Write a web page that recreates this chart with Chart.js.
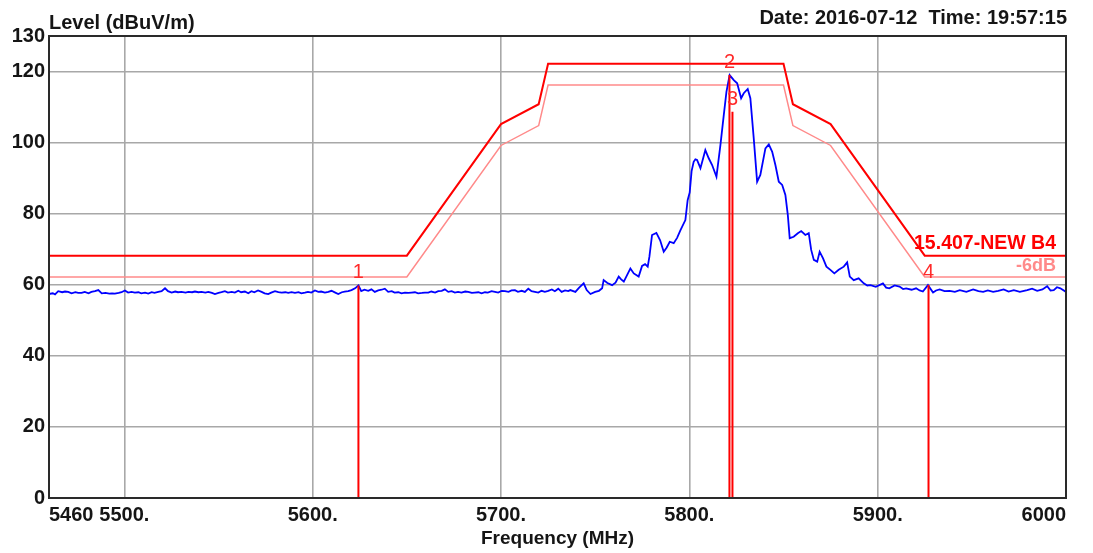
<!DOCTYPE html>
<html>
<head>
<meta charset="utf-8">
<script src="https://cdn.jsdelivr.net/npm/chart.js@4.4.1/dist/chart.umd.min.js"></script>
<style>
  html, body { margin: 0; padding: 0; background: #ffffff; }
  canvas { display: block; }
</style>
</head>
<body>
<canvas id="scan" width="1093" height="553"></canvas>
<script>
// Measured spectrum (MHz, dBuV/m)
const spectrumFreq = [
  5460, 5462, 5463.2, 5464.9, 5467, 5468.5, 5470.2, 5472, 5474, 5475.5, 5477.3, 5479, 5481, 5482.5,
  5484.4, 5486.2, 5488, 5490, 5492, 5493.5, 5495, 5497, 5498.5, 5500.3, 5502, 5503.8, 5505.6, 5507.5,
  5509, 5511, 5512.7, 5514.5, 5516, 5518, 5519.8, 5521.6, 5523.2, 5525.1, 5527, 5528.5, 5530.4, 5532.5,
  5534, 5536, 5537.5, 5539.3, 5541, 5543, 5544.6, 5546.5, 5548.1, 5550, 5551.6, 5553.4, 5555, 5557,
  5558.7, 5560.5, 5562, 5564, 5565.8, 5567.5, 5569, 5571, 5572.9, 5574.5, 5576.4, 5578, 5580, 5581.8,
  5583.5, 5585.5, 5587, 5588.8, 5590.6, 5592.5, 5594, 5595.9, 5597.5, 5599.3, 5601.2, 5603, 5604.5,
  5606.5, 5608.3, 5610, 5612, 5613.6, 5615.5, 5617, 5618.9, 5620.6, 5622.5, 5624.3, 5625.8, 5627.5,
  5629.5, 5631.2, 5633, 5634.8, 5636.6, 5638.3, 5640.1, 5642, 5643.5, 5645.5, 5647.2, 5649, 5650.8,
  5652.5, 5654.3, 5656, 5658, 5659.6, 5661.4, 5663, 5665, 5666.7, 5668.5, 5670.2, 5672, 5673.8, 5675.5,
  5677.2, 5679, 5681, 5682.6, 5684.5, 5686, 5688, 5689.7, 5691.5, 5693, 5695, 5696.8, 5698.5, 5700.4,
  5702.1, 5704, 5705.6, 5707.4, 5709, 5711, 5712.7, 5714.5, 5716.2, 5718, 5719.8, 5721.5, 5723.3,
  5725.1, 5727, 5728.6, 5730.4, 5732.2, 5734, 5735.7,
  5736.8, 5739.5, 5741.5, 5743.9, 5745.5, 5747.5, 5750, 5752, 5753.7, 5754.5, 5756.5, 5759, 5760.8,
  5762.5, 5763.8, 5765.2, 5767, 5768.7, 5770.5, 5773.1, 5774.9, 5776.5, 5777.9, 5778.8, 5780.2,
  5782.5, 5784.5, 5786.4, 5788, 5789.6, 5791.7, 5793.5, 5795.3, 5797.9, 5799.1, 5800.2, 5801.2,
  5802.3, 5803.2, 5804.1, 5805.9, 5807.3, 5808.5, 5810.3, 5812.1, 5814.4, 5816.5, 5818.3, 5819.7,
  5821.4, 5823.6, 5825.4, 5827.5, 5828.9, 5831, 5832.4, 5834.2, 5836, 5837.7, 5840.4, 5842.2, 5844,
  5845.7, 5847.5, 5849.3, 5851, 5852.3, 5853.3, 5855.4, 5857.6, 5859.4, 5861.6, 5863.4, 5864.7,
  5866.1, 5867.9, 5869.2, 5871, 5872.8, 5874.9, 5877, 5879.3, 5882, 5883.8, 5885.2, 5887.3, 5889.9,
  5892.6, 5894.5, 5896.2, 5899, 5902.8, 5904.5, 5906.2, 5909, 5911.6, 5913.5, 5915.1, 5918, 5920.4,
  5922.3, 5924, 5926.7, 5929.4, 5931, 5932.9, 5935.5, 5938.2, 5941, 5943.6, 5947.1, 5950.7, 5953.5,
  5956, 5958.5, 5961.3, 5964, 5966.9, 5969.5, 5972.3, 5975.5, 5979.4, 5982, 5984.7, 5987.5, 5990,
  5991.8, 5993.5, 5995.2, 5997, 6000
];
const spectrumLevel = [
  57.4, 57.6, 57.3, 58.2, 57.9, 58.1, 58.0, 57.6, 57.9, 57.7, 57.7, 58.0, 57.6, 58.0,
  58.2, 58.5, 57.6, 57.7, 57.5, 57.6, 57.5, 57.7, 57.9, 58.4, 57.8, 58.0, 57.8, 57.9,
  57.6, 57.8, 57.5, 57.9, 57.7, 58.0, 58.2, 59.0, 58.2, 57.8, 58.1, 57.9, 58.0, 57.8,
  58.0, 57.9, 58.1, 57.9, 58.0, 57.8, 58.0, 57.7, 57.4, 57.7, 57.9, 58.2, 57.8, 58.0,
  57.8, 58.3, 57.9, 58.1, 57.6, 58.2, 57.9, 58.4, 58.0, 57.6, 57.4, 57.8, 58.2, 57.9,
  57.8, 57.9, 57.7, 57.9, 57.7, 57.9, 57.6, 57.8, 58.0, 57.8, 58.4, 58.0, 58.1,
  57.8, 58.0, 58.3, 57.8, 57.4, 57.9, 58.1, 58.2, 58.5, 59.0, 59.8, 58.2, 58.6,
  58.3, 58.7, 58.0, 58.4, 58.6, 58.9, 58.0, 58.2, 57.8, 57.9, 57.6, 57.8, 57.7,
  57.8, 57.9, 57.6, 57.7, 57.8, 57.8, 58.1, 57.8, 58.2, 58.3, 58.7, 58.0, 58.2, 57.8,
  58.0, 57.8, 58.1, 58.0, 57.7, 57.8, 57.9, 57.6, 57.9, 57.8, 58.2, 58.0, 57.8, 58.3,
  58.2, 58.0, 58.4, 58.5, 58.0, 58.3, 58.0, 58.9, 58.2, 58.0, 57.8, 58.3, 58.0,
  58.3, 58.7, 58.2, 58.9, 58.0, 58.4, 58.2,
  58.5, 58.0, 59.2, 60.4, 58.5, 57.4, 58.0, 58.3, 59.0, 61.3, 60.5, 59.9, 60.6,
  62.3, 61.5, 60.9, 62.8, 64.6, 63.2, 62.3, 65.3, 65.8, 65.1, 67.9, 74.0,
  74.6, 72.5, 69.3, 70.5, 72.1, 71.7, 73.2, 75.4, 78.2, 83.8, 86.0, 92.0,
  94.6, 95.3, 95.1, 92.8, 95.5, 97.9, 95.6, 93.7, 90.4, 99.3, 107.8, 114.3,
  119.0, 117.6, 116.7, 112.5, 113.9, 115.1, 112.5, 101.2, 89.0, 90.9, 98.4, 99.5, 97.4,
  93.7, 89.0, 88.1, 85.3, 79.6, 73.1, 73.5, 74.5, 75.1, 74.0, 74.5, 69.8,
  67.0, 66.5, 69.3, 67.4, 65.1, 64.2, 63.2, 64.2, 65.1, 66.3, 62.3, 61.3, 61.8,
  60.4, 59.8, 59.9, 59.4, 60.4, 59.2, 59.0, 59.8, 59.5, 58.8, 59.0, 58.6, 59.0,
  58.4, 58.1, 59.9, 57.8, 58.4, 58.7, 58.2, 58.3, 58.0, 58.5, 58.0, 58.7, 58.2,
  58.0, 58.4, 58.0, 58.3, 58.7, 58.1, 58.5, 58.0, 58.5, 58.9, 58.3, 58.7, 59.6,
  58.4, 58.5, 59.3, 59.0, 58.0
];

// Emission limit line and the -6 dB margin line
const maskFreq    = [5460, 5650, 5700, 5720, 5725, 5850, 5855, 5875, 5925, 6000];
const maskLimit   = [68.2, 68.2, 105.2, 110.8, 122.2, 122.2, 110.8, 105.2, 68.2, 68.2];
const marginLimit = [62.2, 62.2, 99.2, 104.8, 116.2, 116.2, 104.8, 99.2, 62.2, 62.2];

// Markers
const markerNames = ['1', '2', '3', '4'];
const markerFreq  = [5624.3, 5821.3, 5822.9, 5927.0];
const markerLevel = [59.8, 119.0, 108.7, 59.9];

// Axes
const yTickValues = [0, 20, 40, 60, 80, 100, 120, 130];
const xTickValues = [5460, 5500, 5600, 5700, 5800, 5900, 6000];
const xTickLabels = ['5460', '5500.', '5600.', '5700.', '5800.', '5900.', '6000'];

// Texts
const limitName  = '15.407-NEW B4';
const marginName = '-6dB';
const yTitle = 'Level (dBuV/m)';
const xTitle = 'Frequency (MHz)';
const stamp  = 'Date: 2016-07-12  Time: 19:57:15';

const FONT = '"Liberation Sans", Arial, sans-serif';
const TEXT = '#151515';
const RED = '#ff0000';
const PINK = '#ff8a8a';

const pairs = (xs, ys) => xs.map((x, i) => ({ x: x, y: ys[i] }));

const markerSets = markerFreq.map((f, i) => ({
  label: 'M' + markerNames[i],
  data: [{ x: f, y: markerLevel[i] }, { x: f, y: 0 }],
  borderColor: RED,
  borderWidth: 2,
  pointRadius: 0,
  fill: false
}));

const overlay = {
  id: 'overlay',
  afterDraw(chart) {
    const { ctx, chartArea: a, scales } = chart;
    const xs = scales.x, ys = scales.y;
    ctx.save();

    // plot frame
    ctx.strokeStyle = '#2a2a2a';
    ctx.lineWidth = 2;
    ctx.strokeRect(a.left, a.top, a.right - a.left, a.bottom - a.top);

    // header texts
    ctx.fillStyle = TEXT;
    ctx.font = 'bold 20px ' + FONT;
    ctx.textBaseline = 'alphabetic';
    ctx.textAlign = 'left';
    ctx.fillText(yTitle, a.left, 29);
    ctx.textAlign = 'right';
    ctx.fillText(stamp, a.right + 1, 24);

    // marker numbers
    ctx.font = '20px ' + FONT;
    ctx.fillStyle = '#ff2a2a';
    ctx.textAlign = 'center';
    markerFreq.forEach((f, i) => {
      const px = xs.getPixelForValue(f);
      const py = ys.getPixelForValue(markerLevel[i]);
      ctx.fillText(markerNames[i], px, py - 7);
    });

    // limit line names
    const last = maskFreq.length - 1;
    ctx.textAlign = 'right';
    ctx.font = 'bold 19.5px ' + FONT;
    ctx.fillStyle = RED;
    ctx.fillText(limitName, a.right - 10, ys.getPixelForValue(maskLimit[last]) - 7);
    ctx.font = 'bold 18px ' + FONT;
    ctx.fillStyle = PINK;
    ctx.fillText(marginName, a.right - 10, ys.getPixelForValue(marginLimit[last]) - 6);
    ctx.restore();
  }
};

new Chart(document.getElementById('scan'), {
  type: 'line',
  data: {
    datasets: [
      ...markerSets,
      {
        label: 'Level',
        data: pairs(spectrumFreq, spectrumLevel),
        borderColor: '#0000ff',
        borderWidth: 1.8,
        pointRadius: 0,
        fill: false
      },
      {
        label: limitName,
        data: pairs(maskFreq, maskLimit),
        borderColor: RED,
        borderWidth: 2,
        pointRadius: 0,
        fill: false
      },
      {
        label: marginName,
        data: pairs(maskFreq, marginLimit),
        borderColor: PINK,
        borderWidth: 1.5,
        pointRadius: 0,
        fill: false
      }
    ]
  },
  options: {
    responsive: false,
    animation: false,
    events: [],
    layout: { padding: { top: 36, right: 27, bottom: 0, left: 0 } },
    plugins: { legend: { display: false }, tooltip: { enabled: false }, title: { display: false } },
    elements: { line: { tension: 0 } },
    scales: {
      x: {
        type: 'linear',
        min: 5460,
        max: 6000,
        afterBuildTicks(scale) { scale.ticks = xTickValues.map(v => ({ value: v })); },
        afterFit(scale) { scale.height = 55; },
        ticks: {
          autoSkip: false,
          maxRotation: 0,
          minRotation: 0,
          align: 'inner',
          padding: 5,
          color: TEXT,
          font: { family: FONT, size: 20, weight: 'bold', lineHeight: 1.2 },
          callback: (v, i) => xTickLabels[i]
        },
        grid: { color: '#a8a8a8', lineWidth: 1.6, drawTicks: false },
        border: { display: false },
        title: {
          display: true,
          text: xTitle,
          color: TEXT,
          font: { family: FONT, size: 19, weight: 'bold', lineHeight: 1.2 },
          padding: { top: 0, bottom: 3 }
        }
      },
      y: {
        type: 'linear',
        min: 0,
        max: 130,
        afterBuildTicks(scale) { scale.ticks = yTickValues.map(v => ({ value: v })); },
        afterFit(scale) { scale.width = 49; },
        ticks: {
          padding: 4,
          color: TEXT,
          font: { family: FONT, size: 20, weight: 'bold', lineHeight: 1.2 }
        },
        grid: { color: '#a8a8a8', lineWidth: 1.6, drawTicks: false },
        border: { display: false }
      }
    }
  },
  plugins: [overlay]
});
</script>
</body>
</html>
